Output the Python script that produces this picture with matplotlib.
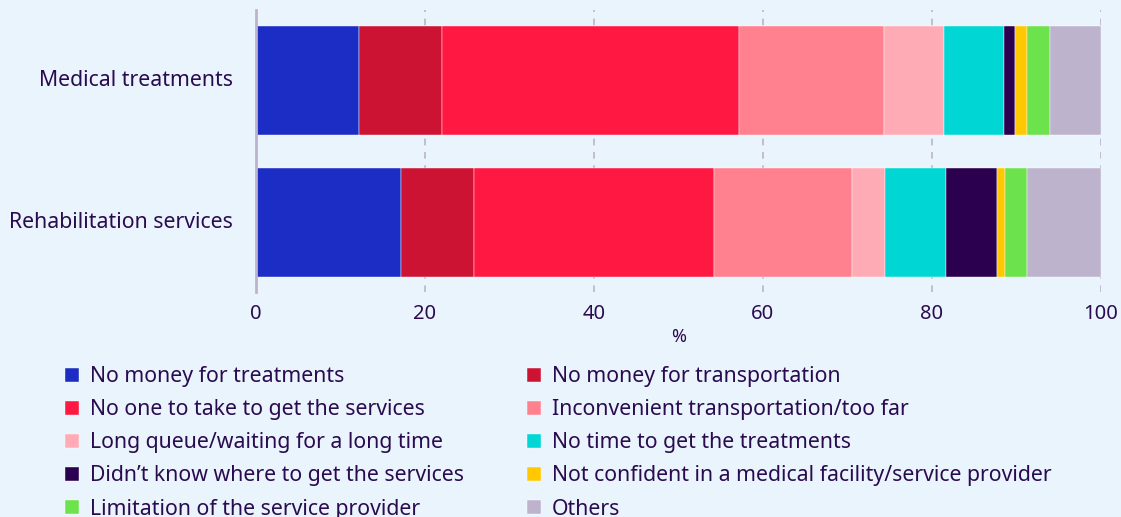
import numpy as np
import matplotlib.pyplot as plt

plt.rcParams['font.family'] = ['Noto Sans', 'DejaVu Sans']

categories = ['Medical treatments', 'Rehabilitation services']
reasons = [
    'No money for treatments',
    'No money for transportation',
    'No one to take to get the services',
    'Inconvenient transportation/too far',
    'Long queue/waiting for a long time',
    'No time to get the treatments',
    'Didn\u2019t know where to get the services',
    'Not confident in a medical facility/service provider',
    'Limitation of the service provider',
    'Others',
]
medical = [12.2, 9.8, 35.2, 17.1, 7.1, 7.1, 1.3, 1.4, 2.8, 6.0]
rehab = [17.2, 8.6, 28.4, 16.3, 3.9, 7.3, 6.0, 0.9, 2.6, 8.8]
colors = ['#1b2dc4', '#cc1333', '#ff1842', '#ff808f', '#ffabb5',
          '#00d6d3', '#2a004f', '#ffc800', '#6ce34c', '#bdb3cc']

bg = '#eaf4fd'
txt = '#2a0b4f'

fig = plt.figure(figsize=(11.21, 5.17), dpi=100, facecolor=bg)
ax = fig.add_axes([256 / 1121, 1 - 292 / 517, 845 / 1121, 282 / 517])
ax.set_facecolor(bg)

values = np.array([medical, rehab])
y = np.arange(len(categories))
left = np.zeros(len(categories))
handles = []
for i, name in enumerate(reasons):
    h = ax.barh(y, values[:, i], left=left, height=0.77, color=colors[i],
                edgecolor='#ffffff', linewidth=0.3, label=name, zorder=3)
    handles.append(h)
    left += values[:, i]

ax.set_xlim(0, 100)
ax.set_ylim(1.49, -0.5)
ax.set_yticks(y)
ax.set_yticklabels(categories, fontsize=15.3, color=txt, va='center')
ax.set_xticks([0, 20, 40, 60, 80, 100])
ax.tick_params(axis='x', length=0, labelsize=14.5, labelcolor=txt, pad=8.5)
ax.tick_params(axis='y', length=0, pad=16.5)
ax.set_xlabel('%', fontsize=13, color=txt, labelpad=3)

ax.grid(axis='x', color='#bdb3cc', linestyle=(0, (4, 4)), linewidth=1.2, zorder=0)
for s in ['top', 'right', 'bottom']:
    ax.spines[s].set_visible(False)
ax.spines['left'].set_color('#bdb3cc')
ax.spines['left'].set_linewidth(2)
ax.spines['left'].set_zorder(4)

# legend filled row by row
order = [0, 2, 4, 6, 8, 1, 3, 5, 7, 9]
leg = fig.legend([handles[k] for k in order], [reasons[k] for k in order],
                 ncol=2, loc='upper left', bbox_to_anchor=(46 / 1121, 1 - 347 / 517),
                 frameon=False, fontsize=15.3, labelcolor=txt,
                 handlelength=0.66, handleheight=0.66, handletextpad=0.52,
                 labelspacing=0.57, columnspacing=2.96)

fig.savefig('out.png', dpi=100, facecolor=bg)
